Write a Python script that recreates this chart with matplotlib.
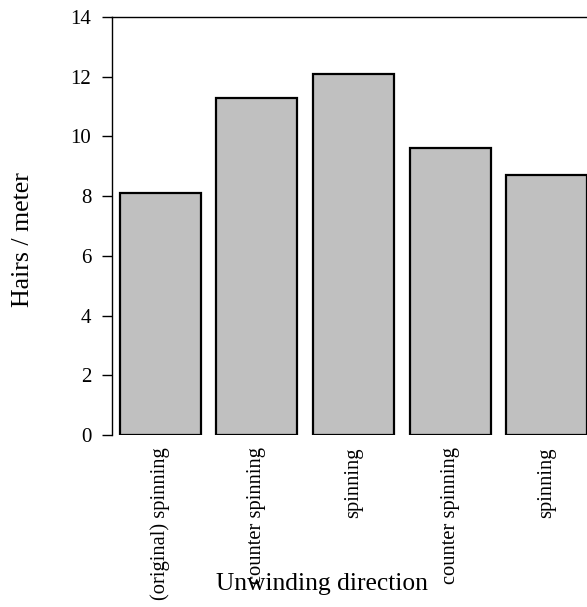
import matplotlib
matplotlib.use('Agg')
import matplotlib.pyplot as plt

# data
categories = ['(original) spinning', 'counter spinning', 'spinning',
              'counter spinning', 'spinning']
hairs = [8.1, 11.3, 12.1, 9.6, 8.7]
yticks = [0, 2, 4, 6, 8, 10, 12, 14]

plt.rcParams['font.family'] = ['Liberation Serif', 'DejaVu Serif']

fig = plt.figure(figsize=(5.87, 6.07), dpi=100)
# axes run past the right edge of the figure, as in the reference
ax = fig.add_axes([112 / 587, 172 / 607, 483 / 587, 418 / 607])

x = list(range(len(categories)))
ax.bar(x, hairs, width=0.84, color='#c0c0c0', edgecolor='black', linewidth=1.6)

ax.set_xlim(-0.5, len(categories) - 0.5)
ax.set_ylim(0, 14)
ax.set_yticks(yticks)
ax.set_xticks(x)
ax.set_xticklabels(categories, rotation=90, va='top', ha='center', fontsize=14.8)
ax.tick_params(axis='x', length=0, pad=9)
ax.tick_params(axis='y', direction='out', length=7, width=1, pad=8, labelsize=15)

ax.spines['bottom'].set_visible(False)
for s in ['left', 'top', 'right']:
    ax.spines[s].set_linewidth(1)
    ax.spines[s].set_color('black')

ax.set_ylabel('Hairs / meter', fontsize=18.6, va='center')
ax.yaxis.set_label_coords(-0.184, 0.467)
ax.set_xlabel('Unwinding direction', fontsize=18.4, va='center')
ax.xaxis.set_label_coords(0.435, -0.356)

fig.savefig('out.png', dpi=100)
